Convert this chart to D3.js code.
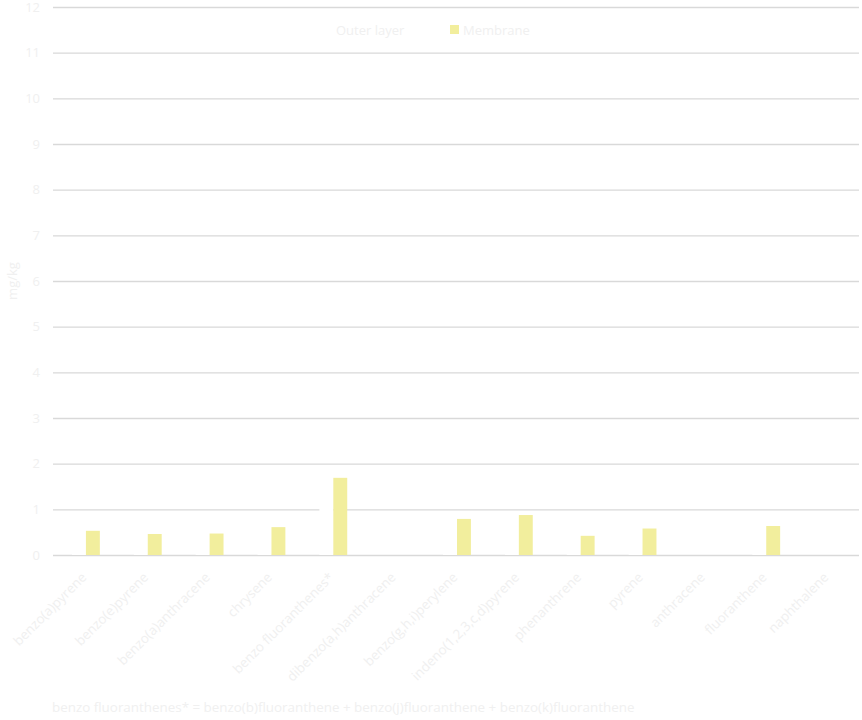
<!DOCTYPE html>
<html>
<head>
<meta charset="utf-8">
<script src="https://cdn.jsdelivr.net/npm/d3@7"></script>
<style>
  body { margin: 0; background: #fff; }
  text { font-family: "Open Sans", "Noto Sans", sans-serif; }
</style>
</head>
<body>
<svg id="chart" width="862" height="720"></svg>
<script>
const categories = [
  'benzo(a)pyrene', 'benzo(e)pyrene', 'benzo(a)anthracene', 'chrysene',
  'benzo fluoranthenes*', 'dibenzo(a,h)anthracene', 'benzo(g,h,i)perylene',
  'indeno(1,2,3,c,d)pyrene', 'phenanthrene', 'pyrene', 'anthracene',
  'fluoranthene', 'naphthalene'
];
const seriesNames = ['Outer layer', 'Membrane'];
const outerLayer = [0.38, 0.07, 0.03, 0.4, 1.05, 0, 0.07, 0.05, 0.05, 0.05, 0, 0.6, 0];
const membrane = [0.53, 0.46, 0.47, 0.61, 1.69, 0, 0.79, 0.875, 0.42, 0.58, 0, 0.635, 0];
const yTicks = [0, 1, 2, 3, 4, 5, 6, 7, 8, 9, 10, 11, 12];
const yLabel = 'mg/kg';
const footnote = 'benzo fluoranthenes* = benzo(b)fluoranthene + benzo(j)fluoranthene + benzo(k)fluoranthene';

const colors = ['#ffffff', '#f2ee9d'];
const textColor = '#f0f0f0';

const margin = { left: 55, right: 3, top: 7, bottom: 165 };
const svg = d3.select('#chart');
const width = +svg.attr('width');
const height = +svg.attr('height');
const innerWidth = width - margin.left - margin.right;
const innerHeight = height - margin.top - margin.bottom;

const rows = categories.map((c, i) => ({ name: c, values: [outerLayer[i], membrane[i]] }));

const g = svg.append('g')
  .attr('transform', `translate(${margin.left},${margin.top})`);

const x0 = d3.scaleBand()
  .domain(categories)
  .range([0, innerWidth])
  .paddingInner(0.55)
  .paddingOuter(0.275);
const x1 = d3.scaleBand()
  .domain(d3.range(seriesNames.length))
  .range([0, x0.bandwidth()]);
const yScale = d3.scaleLinear()
  .domain([0, 12])
  .range([innerHeight, 0]);

// gridlines + tick labels
const yAxisG = g.append('g')
  .call(d3.axisLeft(yScale)
    .tickValues(yTicks)
    .tickSize(-innerWidth - 2)
    .tickPadding(15));
yAxisG.select('.domain').remove();
yAxisG.selectAll('.tick line')
  .attr('stroke', '#d9d9d9')
  .attr('stroke-width', 1.3)
  .attr('transform', 'translate(-2,0)');
yAxisG.selectAll('.tick text')
  .attr('fill', textColor)
  .style('font-size', '13px');

yAxisG.append('text')
  .attr('x', -innerHeight / 2)
  .attr('y', -38)
  .attr('transform', 'rotate(-90)')
  .attr('fill', textColor)
  .style('text-anchor', 'middle')
  .style('font-size', '13px')
  .text(yLabel);

// bars
const groups = g.selectAll('.cat').data(rows)
  .enter().append('g')
  .attr('class', 'cat')
  .attr('transform', d => `translate(${x0(d.name)},0)`);

groups.selectAll('rect').data(d => d.values)
  .enter().append('rect')
  .attr('x', (d, i) => x1(i))
  .attr('width', x1.bandwidth())
  .attr('y', d => yScale(d))
  .attr('height', d => innerHeight - yScale(d))
  .attr('fill', (d, i) => colors[i]);

// x axis labels
const xAxisG = g.append('g')
  .attr('transform', `translate(0,${innerHeight})`)
  .call(d3.axisBottom(x0).tickSize(0));
xAxisG.select('.domain').remove();
xAxisG.selectAll('.tick text')
  .attr('x', 0)
  .attr('y', 0)
  .attr('dy', '0.35em')
  .attr('transform', 'translate(-2,20) rotate(-45)')
  .attr('fill', textColor)
  .style('text-anchor', 'end')
  .style('font-size', '13.3px');

// legend
const legend = svg.append('g')
  .attr('transform', 'translate(323,30)');
const legendX = [0, 127];
seriesNames.forEach((s, i) => {
  const item = legend.append('g')
    .attr('transform', `translate(${legendX[i]},0)`);
  item.append('rect')
    .attr('x', 0)
    .attr('y', -5)
    .attr('width', 9)
    .attr('height', 9)
    .attr('fill', colors[i]);
  item.append('text')
    .attr('x', 13)
    .attr('y', 0)
    .attr('dy', '0.35em')
    .attr('fill', textColor)
    .style('font-size', '13px')
    .text(s);
});

svg.append('text')
  .attr('x', 52)
  .attr('y', 712)
  .attr('fill', textColor)
  .style('font-size', '13.4px')
  .text(footnote);
</script>
</body>
</html>
